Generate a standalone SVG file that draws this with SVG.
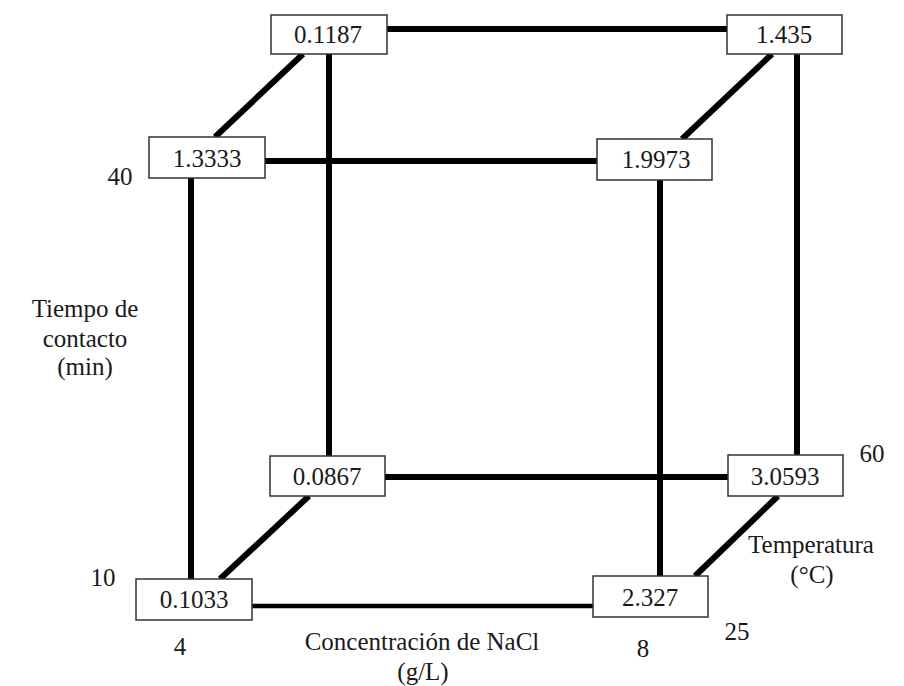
<svg xmlns="http://www.w3.org/2000/svg" width="904" height="686" viewBox="0 0 904 686">
<style>
.edge{stroke:#000;stroke-width:6;fill:none}
.box{fill:#fff;stroke:#333;stroke-width:1.5}
text{font-family:"Liberation Serif","Times New Roman",serif;font-size:25px;fill:#1a1a1a;text-anchor:middle}
</style>
<rect width="904" height="686" fill="#fff"/>
<g id="connectors">
<line class="edge" x1="387" y1="29" x2="727" y2="29"/>
<line class="edge" x1="329" y1="54" x2="329" y2="456"/>
<line class="edge" x1="303" y1="54" x2="215" y2="137"/>
<line class="edge" x1="265" y1="161" x2="597" y2="161"/>
<line class="edge" x1="191" y1="178" x2="191" y2="579"/>
<line class="edge" x1="772" y1="54" x2="682" y2="139"/>
<line class="edge" x1="797" y1="54" x2="797" y2="455"/>
<line class="edge" x1="660" y1="180" x2="660" y2="576"/>
<line class="edge" x1="385" y1="477" x2="728" y2="477"/>
<line class="edge" x1="309" y1="496" x2="220" y2="579"/>
<line class="edge" x1="252" y1="606" x2="593" y2="606" style="stroke-width:4.5"/>
<line class="edge" x1="778" y1="496" x2="695" y2="576"/>
</g>
<g id="n0_1187"><rect class="box" x="271" y="15" width="116" height="39"/><text x="328" y="43">0.1187</text></g>
<g id="n1_435"><rect class="box" x="727" y="15" width="115" height="39"/><text x="784" y="43">1.435</text></g>
<g id="n1_3333"><rect class="box" x="149" y="137" width="116" height="41"/><text x="207" y="167">1.3333</text></g>
<g id="n1_9973"><rect class="box" x="597" y="139" width="115" height="41"/><text x="656" y="168">1.9973</text></g>
<g id="n0_0867"><rect class="box" x="270" y="456" width="115" height="40"/><text x="327" y="485">0.0867</text></g>
<g id="n3_0593"><rect class="box" x="728" y="455" width="115" height="41"/><text x="785" y="485">3.0593</text></g>
<g id="n0_1033"><rect class="box" x="136" y="579" width="116" height="41"/><text x="194" y="608">0.1033</text></g>
<g id="n2_327"><rect class="box" x="593" y="576" width="115" height="41"/><text x="650" y="606">2.327</text></g>
<g id="labels">
<text x="120" y="185">40</text>
<text x="103" y="586">10</text>
<text x="180" y="655">4</text>
<text x="643" y="657">8</text>
<text x="737" y="640">25</text>
<text x="872" y="462">60</text>
<text x="85" y="317">Tiempo de</text>
<text x="85" y="347">contacto</text>
<text x="85" y="375">(min)</text>
<text x="422" y="650">Concentración de NaCl</text>
<text x="423" y="680">(g/L)</text>
<text x="811" y="553">Temperatura</text>
<text x="812" y="583">(°C)</text>
</g>
</svg>
